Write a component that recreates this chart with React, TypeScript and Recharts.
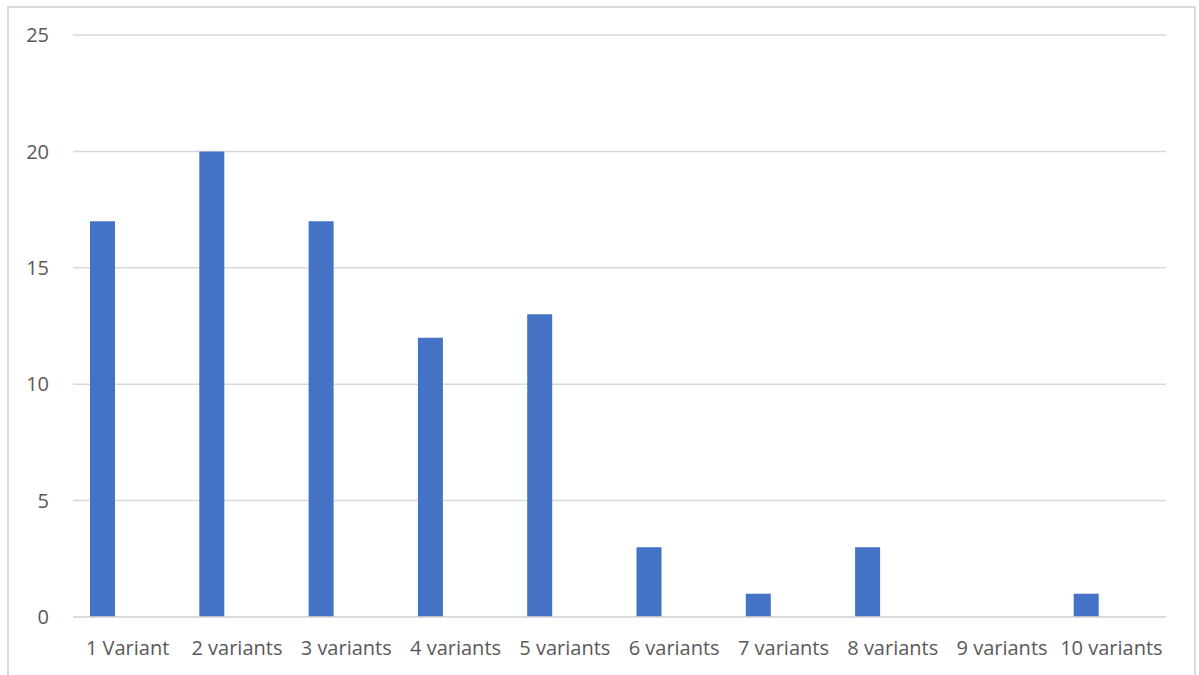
import React from 'react';
import { BarChart, Bar, XAxis, YAxis, CartesianGrid } from 'recharts';

const categories = ['1 Variant', '2 variants', '3 variants', '4 variants', '5 variants', '6 variants', '7 variants', '8 variants', '9 variants', '10 variants'];
const counts = [17, 20, 17, 12, 13, 3, 1, 3, 0, 1];
const yTicks = [0, 5, 10, 15, 20, 25];

const data = categories.map((name, i) => ({ name, value: counts[i] }));

const font = "'Open Sans', sans-serif";

export default function App() {
  return (
    <div style={{ position: 'absolute', left: 0, top: 0, width: 1199, height: 675, overflow: 'hidden', background: '#fff' }}>
      <div style={{ position: 'absolute', left: 7, top: 6, width: 1185, height: 720, border: '2px solid #d9d9d9' }} />
      <div style={{ position: 'absolute', left: 0, top: 0 }}>
        <BarChart
          width={1199}
          height={675}
          data={data}
          margin={{ top: 35, right: 33, bottom: 0, left: 0 }}
          barGap={0}
          barSize={25}
        >
          <CartesianGrid vertical={false} stroke="#d9d9d9" strokeWidth={1.5} />
          <XAxis
            dataKey="name"
            height={58}
            tickSize={0}
            tickMargin={24}
            axisLine={{ stroke: '#d9d9d9', strokeWidth: 1.5 }}
            tickLine={false}
            interval={0}
            tick={{ fill: '#595959', fontSize: 20, fontFamily: font }}
          />
          <YAxis
            width={73}
            domain={[0, 25]}
            ticks={yTicks}
            tickSize={0}
            tickMargin={24}
            axisLine={false}
            tickLine={false}
            tick={{ fill: '#595959', fontSize: 20, fontFamily: font }}
          />
          <Bar dataKey="value" fill="#4472C4" isAnimationActive={false} />
          <Bar dataKey="s2" fill="#ED7D31" isAnimationActive={false} />
          <Bar dataKey="s3" fill="#A5A5A5" isAnimationActive={false} />
        </BarChart>
      </div>
    </div>
  );
}
